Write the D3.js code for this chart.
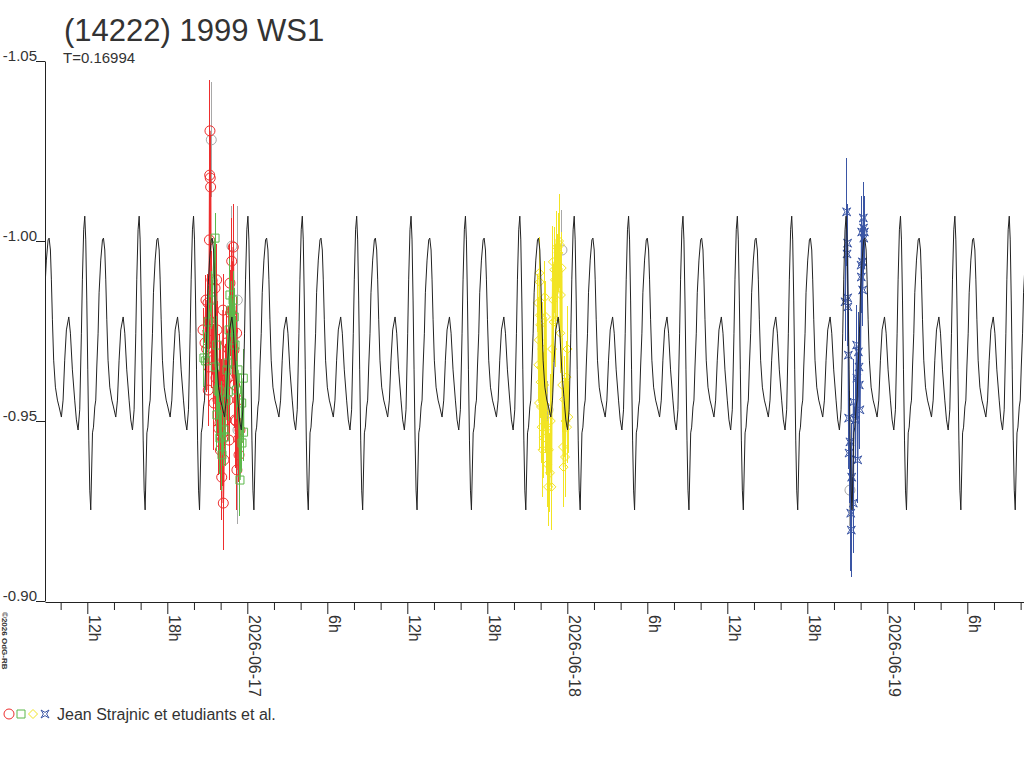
<!DOCTYPE html>
<html lang="en">
  <head>
      <meta charset="utf-8">
      <title>(14222) 1999 WS1</title>
      <script src="https://cdn.jsdelivr.net/npm/d3@7"></script>
      <style>
        body { margin: 0; background: #fff; }
        text { font-family: Arial, "Liberation Sans", sans-serif; fill: #333; }
      </style>
  </head>
  <body>
      <script type="text/javascript">

      // times are UT hours from 2026-06-17 00:00, magnitudes are relative
      var period = 0.16994;          // days
      var epochHours = 4.125;        // a maximum of the model
      // one cycle of the model, phase and magnitude
      var modelPhase = [0, 0.018, 0.037, 0.055, 0.074, 0.092, 0.110, 0.142, 0.160, 0.184, 0.202, 0.221, 0.245, 0.263,
        0.294, 0.325, 0.344, 0.368, 0.386, 0.405, 0.428, 0.460, 0.497, 0.528, 0.570, 0.601, 0.631, 0.662, 0.706,
        0.736, 0.772, 0.815, 0.846, 0.877, 0.907, 0.938, 0.956, 0.980];
      var modelMag = [-1.0069, -1.0003, -0.9836, -0.9642, -0.9447, -0.9308, -0.9253, -0.9467, -0.9483, -0.9539, -0.9558,
        -0.9650, -0.9744, -0.9856, -0.9947, -1.0003, -1.0008, -0.9975, -0.9892, -0.9781, -0.9669, -0.9594, -0.9558,
        -0.9539, -0.9511, -0.9558, -0.9669, -0.9753, -0.9789, -0.9744, -0.9642, -0.9558, -0.9503, -0.9475, -0.9531,
        -0.9744, -0.9892, -1.0031];

      var redT = [-3.32, -3.17, -3.10, -3.05, -2.95, -2.93, -2.90, -2.87, -2.84, -2.82, -2.80, -2.78, -2.75, -2.72, -2.65,
        -2.60, -2.57, -2.50, -2.42, -2.35, -2.30, -2.27, -2.20, -2.15, -2.12, -2.05, -2.02, -1.98, -1.92, -1.90, -1.85,
        -1.82, -1.80, -1.75, -1.70, -1.67, -1.60, -1.55, -1.50, -1.45, -1.40, -1.37, -1.30, -1.25, -1.17, -1.10, -1.05,
        -1.00, -0.95, -0.92, -0.85, -0.80, -0.78, -0.70, -0.65, -0.62, -0.55];
      var redMag = [-0.9753, -0.9717, -0.9836, -0.9700, -0.9828, -0.9586, -0.9650, -0.9781, -1.0003, -1.0183, -1.0306,
        -1.0175, -1.0150, -0.9703, -0.9892, -0.9750, -0.9669, -0.9550, -0.9869, -0.9620, -0.9892, -0.9753, -0.9558,
        -0.9480, -0.9642, -0.9494, -0.9419, -0.9600, -0.9344, -0.9572, -0.9450, -0.9808, -0.9272, -0.9392, -0.9550,
        -0.9614, -0.9503, -0.9717, -0.9620, -0.9558, -0.9700, -0.9447, -0.9883, -0.9800, -0.9944, -0.9750, -0.9983,
        -0.9697, -0.9600, -0.9503, -0.9500, -0.9744, -0.9364, -0.9558, -0.9450, -0.9406, -0.9475];
      var redErr = [0.006, 0.007, 0.007, 0.012, 0.008, 0.010, 0.012, 0.008, 0.011, 0.012, 0.014, 0.012, 0.012, 0.011, 0.008,
        0.012, 0.010, 0.013, 0.008, 0.012, 0.010, 0.008, 0.010, 0.013, 0.010, 0.011, 0.011, 0.012, 0.012, 0.010, 0.013,
        0.010, 0.013, 0.011, 0.012, 0.010, 0.010, 0.010, 0.013, 0.010, 0.012, 0.011, 0.011, 0.012, 0.012, 0.013, 0.012,
        0.010, 0.012, 0.011, 0.013, 0.010, 0.011, 0.010, 0.012, 0.011, 0.010];

      var greenT = [-3.25, -3.12, -2.93, -2.65, -2.42, -2.40, -2.30, -2.28, -2.20, -2.05, -1.97, -1.90, -1.75, -1.67, -1.60,
        -1.52, -1.45, -1.43, -1.37, -1.30, -1.22, -1.15, -1.07, -0.98, -0.92, -0.80, -0.70, -0.55, -0.42, -0.40, -0.30, -0.28];
      var greenMag = [-0.9675, -0.9667, -0.9775, -0.9836, -1.0008, -0.9650, -0.9711, -0.9517, -0.9586, -0.9453, -0.9531,
        -0.9406, -0.9475, -0.9456, -0.9558, -0.9642, -0.9661, -0.9581, -0.9753, -0.9850, -0.9808, -0.9725, -0.9836,
        -0.9789, -0.9711, -0.9586, -0.9642, -0.9336, -0.9550, -0.9439, -0.9619, -0.9469];
      var greenErr = [0.008, 0.008, 0.010, 0.008, 0.007, 0.008, 0.008, 0.010, 0.008, 0.010, 0.008, 0.010, 0.010, 0.008,
        0.008, 0.008, 0.008, 0.008, 0.008, 0.010, 0.008, 0.008, 0.008, 0.008, 0.008, 0.008, 0.008, 0.010, 0.008, 0.008,
        0.008, 0.008];

      var yellowT = [21.80, 21.83, 21.86, 21.88, 21.90, 21.93, 21.95, 21.97, 22.00, 22.03, 22.05, 22.08, 22.12, 22.15,
        22.18, 22.22, 22.26, 22.31, 22.35, 22.40, 22.45, 22.50, 22.56, 22.62, 22.70, 22.76, 22.81, 22.86, 22.92, 22.95,
        22.98, 23.02, 23.08, 23.14, 23.21, 23.27, 23.33, 23.38, 23.45, 23.48, 23.52, 23.58, 23.62, 23.68, 23.72, 23.77,
        23.83, 23.88, 23.94, 23.98, 24.02, 24.08];
      var yellowMag = [-0.9828, -0.9656, -0.9725, -0.9550, -0.9911, -0.9886, -0.9794, -0.9767, -0.9608, -0.9539, -0.9650,
        -0.9483, -0.9700, -0.9420, -0.9578, -0.9453, -0.9600, -0.9844, -0.9522, -0.9789, -0.9480, -0.9380, -0.9317,
        -0.9420, -0.9356, -0.9500, -0.9317, -0.9700, -0.9942, -0.9836, -0.9775, -0.9920, -0.9892, -0.9780, -0.9983,
        -0.9900, -0.9967, -1.0000, -0.9989, -0.9744, -0.9850, -0.9925, -0.9600, -0.9428, -0.9372, -0.9560, -0.9400,
        -0.9500, -0.9622, -0.9483, -0.9700, -0.9511];
      var yellowErr = [0.008, 0.010, 0.012, 0.013, 0.010, 0.008, 0.010, 0.008, 0.010, 0.010, 0.012, 0.010, 0.013, 0.013,
        0.011, 0.011, 0.012, 0.010, 0.011, 0.010, 0.013, 0.012, 0.011, 0.013, 0.011, 0.013, 0.012, 0.012, 0.010, 0.010,
        0.011, 0.012, 0.010, 0.013, 0.010, 0.012, 0.011, 0.013, 0.009, 0.011, 0.012, 0.010, 0.013, 0.011, 0.011, 0.012,
        0.011, 0.012, 0.010, 0.010, 0.012, 0.010];

      var blueT = [44.83, 44.95, 44.98, 45.02, 45.03, 45.05, 45.08, 45.10, 45.13, 45.20, 45.26, 45.30, 45.33, 45.45, 45.47,
        45.63, 45.70, 45.72, 45.78, 45.83, 45.88, 45.90, 45.95, 46.03, 46.05, 46.08, 46.13, 46.15, 46.20, 46.22, 46.24, 46.28];
      var blueMag = [-0.9831, -1.0081, -0.9964, -0.9994, -0.9842, -0.9817, -0.9683, -0.9508, -0.9411, -0.9442, -0.9244,
        -0.9197, -0.9344, -0.9272, -0.9553, -0.9503, -0.9711, -0.9619, -0.9392, -0.9692, -0.9650, -0.9600, -0.9531,
        -0.9933, -0.9900, -1.0025, -0.9942, -0.9864, -1.0064, -1.0036, -1.0008, -1.0025];
      var blueErr = [0.011, 0.015, 0.011, 0.011, 0.011, 0.011, 0.012, 0.014, 0.014, 0.014, 0.016, 0.013, 0.015, 0.014, 0.012,
        0.012, 0.011, 0.011, 0.012, 0.011, 0.011, 0.011, 0.011, 0.010, 0.010, 0.010, 0.010, 0.010, 0.010, 0.010, 0.010, 0.010];

      // rejected points, drawn grey
      var greyT = [-2.70, -1.15, -0.75, -0.70, 22.55, 23.60, 45.20];
      var greyMag = [-1.0281, -0.9986, -0.9836, -0.9475, -0.9531, -0.9975, -0.9308];
      var greyErr = [0.016, 0.011, 0.026, 0.026, 0.008, 0.011, 0.010];

      var yTicks = [-1.05, -1.00, -0.95, -0.90];
      var title = "(14222) 1999 WS1";
      var legendText = "Jean Strajnic et etudiants et al.";

      var w = 1024;
      var h = 768;
      var epoch = Date.UTC(2026, 5, 17);
      function toDate(hours) { return new Date(epoch + hours * 3600e3); }

      var svg = d3.select("body").append("svg").attr("width", w).attr("height", h);

      var x = d3.scaleUtc().domain([toDate(-15.1725), toDate(58.2525)]).range([45, 1024]);
      var y = d3.scaleLinear().domain([-1.05, -0.90]).range([61, 601]);

      svg.append("clipPath").attr("id", "plot").append("rect")
        .attr("x", 45).attr("y", 0).attr("width", 979).attr("height", 768);

      // x axis
      var xAxis = svg.append("g").attr("transform", "translate(0,602)")
        .call(d3.axisBottom(x).ticks(d3.utcHour.every(2)).tickSize(8).tickSizeOuter(0)
          .tickFormat(function(d){
            var hr = d.getUTCHours();
            if (hr == 0) return d3.utcFormat("%Y-%m-%d")(d);
            if (hr % 6 == 0) return hr + "h";
            return "";
          }));
      xAxis.selectAll("line").attr("stroke", "#222").attr("y2", function(d){
        return d.getUTCHours() % 6 == 0 ? 12 : 8;
      });
      xAxis.select(".domain").attr("stroke", "#222");
      xAxis.selectAll("text").attr("y", null).attr("dy", null)
        .attr("transform", "translate(1,13) rotate(90)").attr("text-anchor", "start")
        .attr("font-size", "16px").attr("font-family", null).attr("fill", "#333");

      // y axis
      var yAxis = svg.append("g").attr("transform", "translate(45,0)")
        .call(d3.axisLeft(y).tickValues(yTicks).tickSize(9).tickSizeOuter(0)
          .tickFormat(function(d){ return d.toFixed(2); }));
      yAxis.selectAll("line").attr("stroke", "#222");
      yAxis.select(".domain").attr("stroke", "#222");
      yAxis.selectAll("text").attr("x", -8).attr("dy", "-1").attr("text-anchor", "end")
        .attr("font-size", "15px").attr("font-family", null).attr("fill", "#333");

      var symbols = {
        circle: "M5,0A5,5 0 1,1 -5,0A5,5 0 1,1 5,0Z",
        square: "M-4,-4H4V4H-4Z",
        diamond: "M0,-4.5L4.5,0L0,4.5L-4.5,0Z",
        star: "M-4,-4L0,-1.6L4,-4L1.6,0L4,4L0,1.6L-4,4L-1.6,0Z"
      };

      function drawSeries(tArr, magArr, errArr, color, sym, joined) {
        var data = tArr.map(function(t, i){ return {t: toDate(t), mag: magArr[i], err: errArr[i]}; });
        var g = svg.append("g").attr("clip-path", "url(#plot)");
        g.selectAll("line").data(data).enter().append("line")
          .attr("x1", function(d){ return x(d.t); }).attr("x2", function(d){ return x(d.t); })
          .attr("y1", function(d){ return y(d.mag - d.err); }).attr("y2", function(d){ return y(d.mag + d.err); })
          .attr("stroke", color).attr("stroke-width", 1).attr("shape-rendering", "crispEdges");
        if (joined) {
          g.append("path").datum(data)
            .attr("d", d3.line().x(function(d){ return x(d.t); }).y(function(d){ return y(d.mag); }))
            .attr("fill", "none").attr("stroke", color).attr("stroke-width", 1.5);
        }
        g.selectAll("path.pt").data(data).enter().append("path").attr("class", "pt")
          .attr("d", symbols[sym])
          .attr("transform", function(d){ return "translate(" + x(d.t) + "," + y(d.mag) + ")"; })
          .attr("fill", "none").attr("stroke", color).attr("stroke-width", 1);
      }

      drawSeries(greyT, greyMag, greyErr, "#a8a8a8", "circle", false);
      drawSeries(redT, redMag, redErr, "#ee2e2e", "circle", true);
      drawSeries(greenT, greenMag, greenErr, "#5cb84a", "square", true);
      drawSeries(yellowT, yellowMag, yellowErr, "#f2e424", "diamond", true);
      drawSeries(blueT, blueMag, blueErr, "#3a55a4", "star", true);

      // model light curve, one cycle repeated over the whole range
      var P = period * 24;
      var model = [];
      var k0 = Math.floor((-15.1725 - epochHours) / P) - 1;
      var k1 = Math.ceil((58.2525 - epochHours) / P) + 1;
      for (var k = k0; k <= k1; k++) {
        modelPhase.forEach(function(p, i){
          model.push({t: toDate(epochHours + (k + p) * P), mag: modelMag[i]});
        });
      }
      svg.append("path").datum(model).attr("clip-path", "url(#plot)")
        .attr("d", d3.line().x(function(d){ return x(d.t); }).y(function(d){ return y(d.mag); }))
        .attr("fill", "none").attr("stroke", "#222").attr("stroke-width", 1);

      // titles
      svg.append("text").text(title).attr("x", 64).attr("y", 41)
        .attr("font-size", "31px").attr("fill", "#222");
      svg.append("text").text("T=" + period).attr("x", 63).attr("y", 63)
        .attr("font-size", "15px");
      svg.append("text").text("\u00a92026 OdG-RB").attr("transform", "translate(2,612) rotate(90)")
        .attr("font-size", "8px").attr("font-weight", "bold");

      // legend
      var leg = svg.append("g").attr("transform", "translate(0,714)");
      [["circle", "#ee2e2e", 9], ["square", "#5cb84a", 21], ["diamond", "#f2e424", 33], ["star", "#3a55a4", 45]]
        .forEach(function(s){
          leg.append("path").attr("d", symbols[s[0]]).attr("transform", "translate(" + s[2] + ",0)")
            .attr("fill", "none").attr("stroke", s[1]);
        });
      leg.append("text").text(legendText).attr("x", 57).attr("y", 6).attr("font-size", "16px");

      </script>
  </body>
</html>
